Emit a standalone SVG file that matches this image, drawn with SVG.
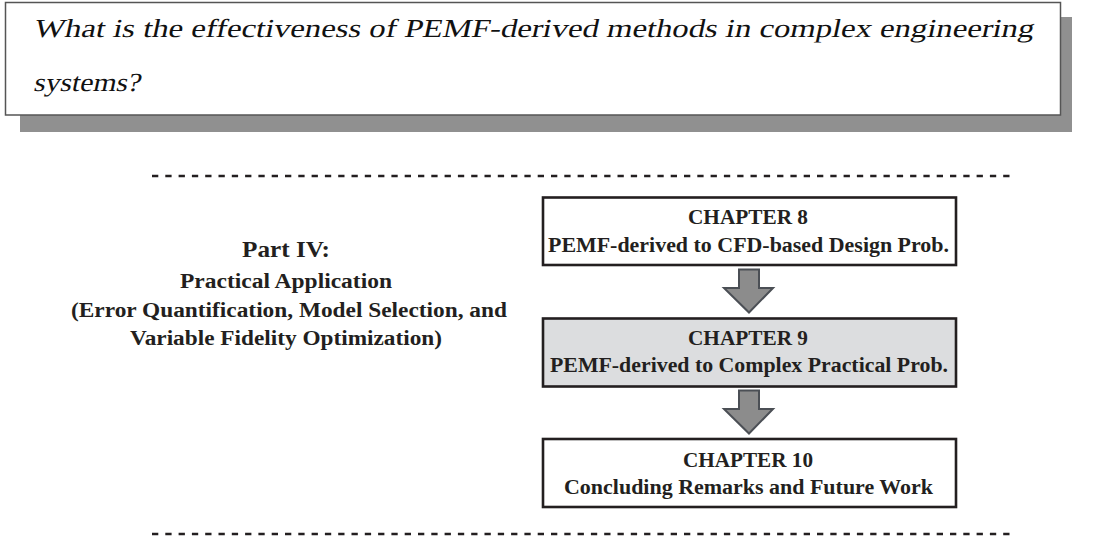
<svg xmlns="http://www.w3.org/2000/svg" width="1110" height="539" viewBox="0 0 1110 539">
<defs>
<style>
.q{font-family:"Liberation Serif",serif;font-size:26px;fill:#111}
.b{font-family:"Liberation Serif",serif;font-weight:bold;fill:#231f20;text-anchor:middle}
.ch{font-size:20.5px}
.pt{font-size:24px}
.ps{font-size:20px}
.box{stroke:#231f20;stroke-width:2.6}
.dash{stroke:#231f20;stroke-width:2.5;stroke-dasharray:6.3 7}
.arr{fill:#8c8c8c;stroke:#4b4f55;stroke-width:2;stroke-linejoin:miter}
</style>
</defs>
<rect width="1110" height="539" fill="#fff"/>
<g id="question">
<rect x="20" y="17" width="1052" height="115" fill="#909090"/>
<rect x="5.5" y="2.5" width="1055" height="112.5" fill="#fff" stroke="#555" stroke-width="1.5"/>
<g transform="skewX(-12)">
<text class="q" x="40.9" y="37" textLength="1000" lengthAdjust="spacingAndGlyphs">What is the effectiveness of PEMF-derived methods in complex engineering</text>
<text class="q" x="52.3" y="91" textLength="107" lengthAdjust="spacingAndGlyphs">systems?</text>
</g>
</g>
<g id="part4">
<text class="b pt" x="286" y="257" textLength="88" lengthAdjust="spacingAndGlyphs">Part IV:</text>
<text class="b ps" x="286" y="288" textLength="212" lengthAdjust="spacingAndGlyphs">Practical Application</text>
<text class="b ps" x="289" y="317" textLength="436" lengthAdjust="spacingAndGlyphs">(Error Quantification, Model Selection, and</text>
<text class="b ps" x="286" y="345" textLength="312" lengthAdjust="spacingAndGlyphs">Variable Fidelity Optimization)</text>
</g>
<g id="ch8">
<rect class="box" x="543" y="197.5" width="413" height="67.5" fill="#fff"/>
<text class="b ch" x="748" y="224" textLength="120" lengthAdjust="spacingAndGlyphs">CHAPTER 8</text>
<text class="b ch" x="748.5" y="252" textLength="401" lengthAdjust="spacingAndGlyphs">PEMF-derived to CFD-based Design Prob.</text>
</g>
<g id="ch9">
<rect class="box" x="543" y="318.5" width="413" height="68" fill="#dcdddf"/>
<text class="b ch" x="748" y="345" textLength="120" lengthAdjust="spacingAndGlyphs">CHAPTER 9</text>
<text class="b ch" x="749" y="372" textLength="398" lengthAdjust="spacingAndGlyphs">PEMF-derived to Complex Practical Prob.</text>
</g>
<g id="ch10">
<rect class="box" x="543" y="439" width="413" height="68" fill="#fff"/>
<text class="b ch" x="748" y="467" textLength="130" lengthAdjust="spacingAndGlyphs">CHAPTER 10</text>
<text class="b ch" x="748.5" y="494" textLength="369" lengthAdjust="spacingAndGlyphs">Concluding Remarks and Future Work</text>
</g>
<g id="connectors">
<path class="arr" d="M739 269.5H759V288H773L749 312.5L724 288H739Z"/>
<path class="arr" d="M739 390.5H759V409H773L749 433.5L724 409H739Z"/>
<line class="dash" x1="152" y1="176" x2="1010" y2="176"/>
<line class="dash" x1="152" y1="534" x2="1010" y2="534"/>
</g>
</svg>
